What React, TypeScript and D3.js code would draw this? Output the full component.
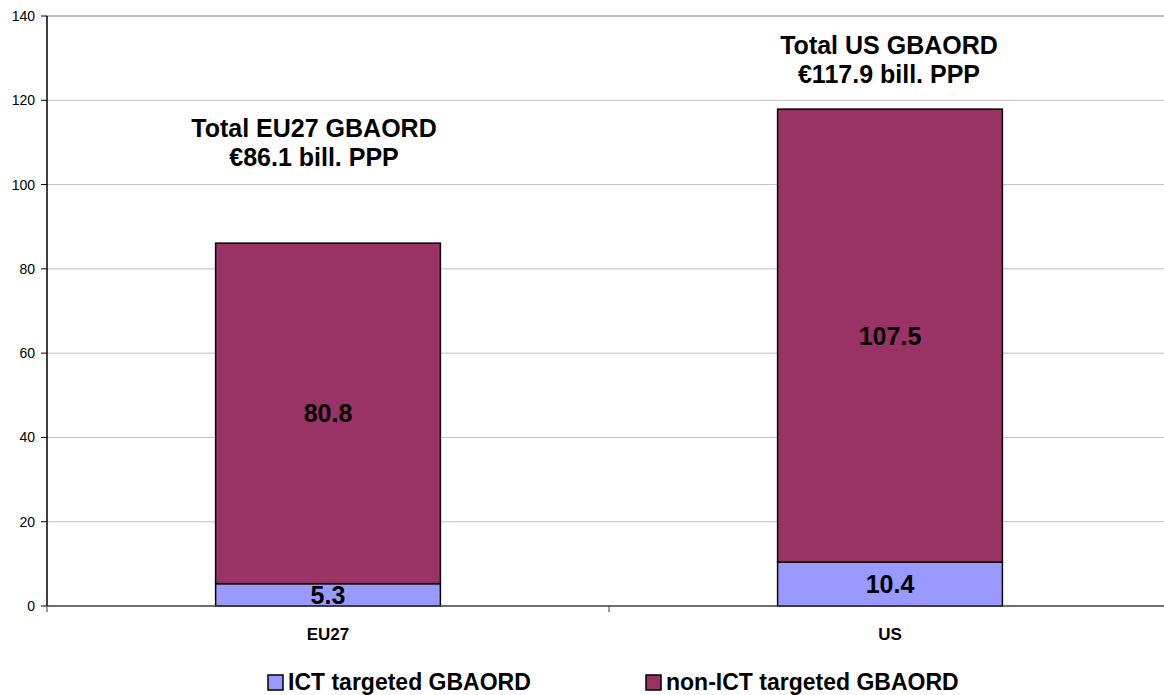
import React from "react";
import * as d3 from "d3";

const categories = ["EU27", "US"];
const ictValues = [5.3, 10.4];
const nonIctValues = [80.8, 107.5];
const totals = [86.1, 117.9];
const totalTitles = [
  ["Total EU27 GBAORD", "€86.1 bill. PPP"],
  ["Total US GBAORD", "€117.9 bill. PPP"],
];
const seriesNames = ["ICT targeted GBAORD", "non-ICT targeted GBAORD"];
const yTicks = [0, 20, 40, 60, 80, 100, 120, 140];

const W = 1164;
const H = 695;
const left = 47;
const right = 1171;
const top = 16;
const bottom = 606;
const colors = ["#9999FF", "#993366"];
const font = "Liberation Sans, Arial, sans-serif";
// title placement (baseline of first line, in px) and horizontal shift from bar centre
const titleBase = [137, 54];
const titleShift = [-14, -1];

export default function App() {
  const y = d3.scaleLinear().domain([0, 140]).range([bottom, top]);
  const x = d3.scaleBand().domain(categories).range([left, right]).paddingInner(0.6).paddingOuter(0.3);
  const band = (right - left) / categories.length;
  const stack = categories.map((c, i) => [
    { y0: 0, y1: ictValues[i] },
    { y0: ictValues[i], y1: ictValues[i] + nonIctValues[i] },
  ]);
  return (
    <svg width={W} height={H} style={{ position: "absolute", left: 0, top: 0, fontFamily: font }}>
      <rect width={W} height={H} fill="#fff" />
      {yTicks.filter((t) => t > 0).map((t) => (
        <line key={t} x1={left} x2={right} y1={y(t)} y2={y(t)} stroke={t === 140 ? "#808080" : "#c0c0c0"} strokeWidth={1} />
      ))}
      {categories.map((c, i) => {
        const cx = x(c)! + x.bandwidth() / 2;
        return (
          <g key={c}>
            {stack[i].map((s, j) => (
              <rect key={j} x={x(c)} width={x.bandwidth()} y={y(s.y1)} height={y(s.y0) - y(s.y1)} fill={colors[j]} stroke="#000" strokeWidth={1.5} />
            ))}
            <text x={cx} y={(y(0) + y(ictValues[i])) / 2 + 9} textAnchor="middle" fontSize={25} fontWeight="bold">{ictValues[i].toFixed(1)}</text>
            <text x={cx} y={(y(ictValues[i]) + y(totals[i])) / 2 + 9} textAnchor="middle" fontSize={25} fontWeight="bold">{nonIctValues[i].toFixed(1)}</text>
            <text x={cx + titleShift[i]} y={titleBase[i]} textAnchor="middle" fontSize={25} fontWeight="bold">{totalTitles[i][0]}</text>
            <text x={cx + titleShift[i]} y={titleBase[i] + 29} textAnchor="middle" fontSize={25} fontWeight="bold">{totalTitles[i][1]}</text>
            <text x={left + band * (i + 0.5)} y={640} textAnchor="middle" fontSize={17} fontWeight="bold">{c}</text>
          </g>
        );
      })}
      <line x1={left} x2={left} y1={top} y2={bottom} stroke="#000" strokeWidth={1.5} />
      <line x1={left} x2={right} y1={bottom} y2={bottom} stroke="#404040" strokeWidth={1.5} />
      {yTicks.map((t) => (
        <g key={t}>
          <line x1={41} x2={left} y1={y(t)} y2={y(t)} stroke="#000" />
          <text x={35} y={y(t) + 5} textAnchor="end" fontSize={14}>{t}</text>
        </g>
      ))}
      {[0, 1, 2].map((k) => (
        <line key={k} x1={left + band * k} x2={left + band * k} y1={bottom} y2={bottom + 6} stroke="#404040" />
      ))}
      {seriesNames.map((n, j) => {
        const lx = [268, 646][j];
        return (
          <g key={n}>
            <rect x={lx} y={675} width={15} height={15} fill={colors[j]} stroke="#000" strokeWidth={1.5} />
            <text x={lx + 20} y={690} fontSize={23} fontWeight="bold">{n}</text>
          </g>
        );
      })}
    </svg>
  );
}
